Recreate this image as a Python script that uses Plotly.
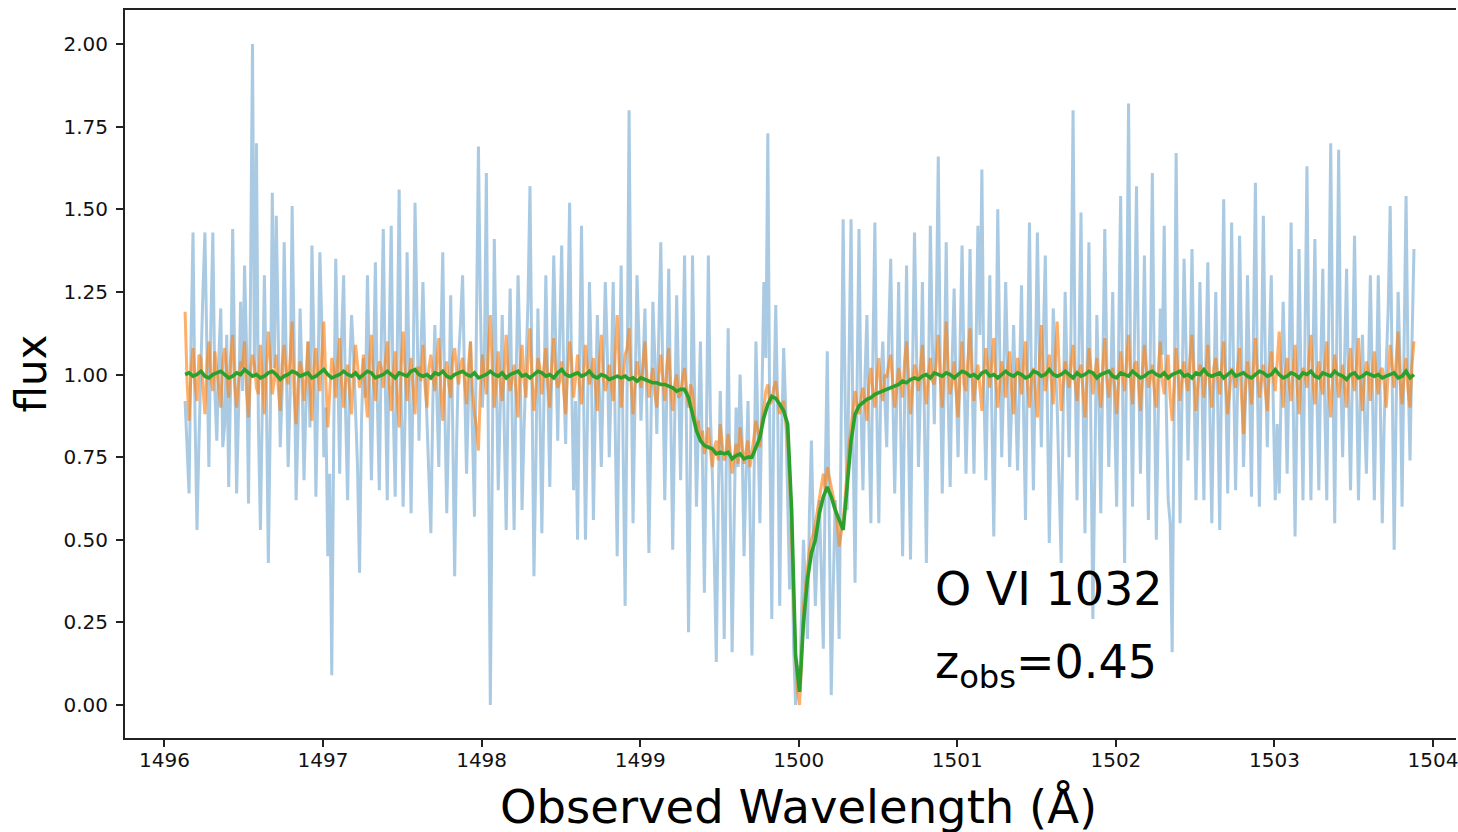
import plotly.graph_objects as go

# Observed wavelength grids: start / step (Angstrom)
wl_start = 1496.13
wl_step_fine = 0.0125
wl_step_clean = 0.025

# Raw (noisy) flux - light blue
flux_raw = [
    0.92, 0.75, 0.64, 1.10, 1.43, 0.88, 0.53, 0.80, 1.05, 1.25, 1.43, 1.02, 0.72, 1.15, 1.43, 0.95, 0.80, 1.05, 1.20, 0.78,
    0.85, 1.12, 0.66, 0.98, 1.44, 1.05, 0.64, 0.90, 1.22, 0.95, 1.33, 1.08, 0.61, 1.25, 2.00, 1.00, 1.70, 0.85, 0.53, 0.92,
    1.30, 0.95, 0.43, 0.88, 1.55, 1.02, 1.48, 1.12, 0.78, 0.96, 1.40, 1.05, 0.72, 0.94, 1.51, 1.10, 0.62, 0.85, 1.20, 0.99,
    0.68, 0.92, 1.10, 0.84, 1.39, 1.08, 0.63, 0.97, 1.37, 1.15, 0.75, 0.90, 0.45, 0.70, 0.09, 0.82, 1.35, 1.03, 0.70, 1.12,
    1.30, 0.88, 0.62, 1.02, 1.18, 1.06, 0.90, 0.72, 0.40, 0.86, 1.05, 0.93, 1.30, 1.01, 0.68, 0.99, 1.34, 0.92, 0.65, 1.10,
    1.44, 0.97, 0.62, 1.12, 1.45, 0.90, 0.63, 1.05, 1.56, 0.95, 0.60, 0.88, 1.37, 1.00, 0.58, 0.96, 1.52, 1.18, 0.80, 1.07,
    1.28, 1.04, 0.88, 0.70, 0.52, 0.92, 1.15, 0.94, 0.72, 1.08, 1.37, 0.91, 0.58, 0.86, 1.24, 0.85, 0.39, 0.80, 1.05, 1.16,
    1.30, 0.98, 0.70, 0.94, 1.10, 0.82, 0.57, 1.15, 1.69, 1.20, 0.90, 1.05, 1.61, 0.80, 0.00, 0.75, 1.41, 1.02, 0.65, 0.90,
    1.18, 0.85, 0.53, 0.96, 1.26, 0.88, 0.53, 0.99, 1.30, 1.06, 0.59, 0.83, 1.05, 1.22, 1.57, 0.95, 0.39, 0.74, 1.20, 0.90,
    0.52, 0.91, 1.30, 0.97, 0.66, 1.03, 1.36, 1.09, 0.80, 1.12, 1.39, 1.00, 0.79, 1.14, 1.52, 0.99, 0.65, 0.92, 0.50, 1.02,
    1.45, 0.96, 0.50, 0.87, 1.28, 1.01, 0.56, 0.90, 1.18, 0.95, 0.72, 1.00, 1.28, 1.07, 0.75, 0.99, 1.28, 0.84, 0.45, 0.93,
    1.33, 0.78, 0.30, 0.95, 1.80, 1.05, 0.55, 0.93, 1.30, 1.10, 0.86, 1.02, 1.20, 0.88, 0.46, 0.83, 1.22, 1.05, 0.82, 1.13,
    1.40, 1.00, 0.62, 0.94, 1.32, 0.90, 0.47, 0.85, 1.24, 0.97, 0.68, 1.02, 1.36, 0.80, 0.22, 0.75, 1.36, 0.96, 0.60, 0.85,
    1.10, 0.74, 0.34, 0.82, 1.36, 0.88, 0.70, 0.45, 0.13, 0.62, 0.95, 0.66, 0.20, 0.71, 1.14, 0.60, 0.16, 0.55, 0.90, 0.72,
    1.00, 0.80, 0.45, 0.70, 0.92, 0.58, 0.15, 0.66, 1.10, 0.84, 0.55, 0.92, 1.28, 1.05, 1.73, 0.82, 0.26, 0.90, 1.21, 0.88,
    0.30, 0.82, 1.08, 0.90, 0.62, 0.35, 0.58, 0.18, 0.00, 0.12, 0.05, 0.28, 0.50, 0.35, 0.20, 0.58, 0.80, 0.52, 0.30, 0.48,
    0.62, 0.40, 0.17, 0.70, 1.07, 0.55, 0.03, 0.35, 0.62, 0.48, 0.20, 0.85, 1.47, 0.92, 0.59, 1.05, 1.47, 0.80, 0.37, 0.95,
    1.44, 0.90, 0.65, 0.99, 1.18, 0.84, 0.55, 1.05, 1.46, 0.88, 0.55, 0.97, 1.10, 0.93, 0.78, 1.12, 1.35, 0.96, 0.64, 0.91,
    1.28, 0.86, 0.45, 0.92, 1.33, 0.81, 0.44, 1.00, 1.43, 1.08, 0.72, 0.95, 1.28, 0.87, 0.43, 0.94, 1.45, 1.10, 0.85, 1.18,
    1.66, 1.02, 0.64, 0.98, 1.40, 0.92, 0.66, 1.04, 1.26, 0.97, 0.75, 1.09, 1.39, 1.01, 0.70, 0.96, 1.38, 1.03, 0.70, 1.06,
    1.45, 1.12, 1.62, 0.96, 0.68, 1.00, 1.30, 0.89, 0.51, 0.94, 1.50, 1.07, 0.75, 0.98, 1.28, 1.02, 0.72, 0.90, 1.15, 0.93,
    0.71, 0.99, 1.27, 0.90, 0.56, 1.04, 1.46, 0.97, 0.65, 1.02, 1.43, 1.06, 0.78, 1.11, 1.36, 0.92, 0.49, 0.85, 1.20, 1.05,
    0.90, 0.66, 0.43, 0.88, 1.25, 1.00, 0.75, 1.15, 1.80, 1.04, 0.62, 1.08, 1.49, 0.93, 0.52, 0.98, 1.40, 0.83, 0.26, 0.72,
    1.18, 0.93, 0.58, 1.01, 1.44, 1.05, 0.72, 0.96, 1.25, 0.87, 0.60, 1.09, 1.54, 0.95, 0.43, 1.10, 1.82, 1.03, 0.60, 1.12,
    1.57, 1.04, 0.70, 1.00, 1.36, 0.94, 0.56, 1.08, 1.61, 0.97, 0.50, 0.88, 1.20, 1.06, 1.45, 0.91, 0.62, 0.55, 0.16, 0.90,
    1.67, 1.01, 0.55, 0.95, 1.35, 1.08, 0.74, 1.02, 1.38, 0.99, 0.62, 0.92, 1.28, 0.97, 0.62, 1.05, 1.34, 0.89, 0.55, 0.94,
    1.25, 0.90, 0.53, 1.06, 1.53, 0.98, 0.64, 1.03, 1.46, 1.00, 0.65, 0.96, 1.42, 1.09, 0.72, 0.93, 1.30, 0.99, 0.63, 1.12,
    1.58, 0.97, 0.60, 1.02, 1.48, 1.04, 0.78, 1.08, 1.30, 0.91, 0.62, 0.85, 0.64, 0.96, 1.22, 1.00, 0.70, 1.03, 1.46, 0.95,
    0.51, 0.92, 1.38, 0.98, 0.62, 1.10, 1.63, 1.00, 0.62, 1.03, 1.41, 0.95, 0.65, 1.04, 1.32, 0.90, 0.62, 1.15, 1.70, 1.06,
    0.55, 1.08, 1.68, 1.01, 0.75, 1.05, 1.32, 0.94, 0.65, 1.02, 1.42, 0.99, 0.62, 0.93, 1.12, 0.88, 0.70, 1.00, 1.30, 0.96,
    0.62, 0.95, 1.30, 0.92, 0.55, 0.86, 1.05, 1.20, 1.51, 0.98, 0.47, 0.90, 1.25, 1.03, 0.60, 1.08, 1.54, 1.02, 0.74, 1.10, 1.38,
]

# Medium-noise flux - orange
flux_mid = [
    1.19, 0.98, 0.86, 1.01, 1.08, 0.97, 0.92, 1.06, 1.05, 0.95, 0.88, 1.03, 1.10, 0.99, 0.95, 1.07, 1.02, 0.96, 0.90, 1.04,
    1.08, 1.00, 0.93, 1.05, 1.12, 0.97, 0.90, 0.98, 1.04, 1.02, 1.10, 0.95, 0.87, 1.01, 1.06, 1.03, 0.96, 0.94, 1.09, 0.99,
    0.88, 1.02, 1.13, 1.04, 0.94, 0.98, 1.06, 0.96, 0.89, 1.03, 1.09, 1.00, 0.97, 1.05, 1.16, 0.94, 0.85, 0.97, 1.04, 1.01,
    0.92, 0.99, 1.10, 0.96, 0.86, 1.02, 1.08, 1.00, 0.95, 1.06, 1.16, 0.98, 0.84, 0.95, 1.05, 1.02, 0.93, 1.04, 1.11, 0.97,
    0.90, 0.98, 1.03, 0.95, 0.88, 1.01, 1.09, 1.03, 0.96, 0.99, 1.06, 0.94, 0.87, 1.04, 1.12, 0.98, 0.92, 1.00, 1.04, 1.02,
    0.96, 1.04, 1.10, 0.97, 0.89, 1.00, 1.07, 0.93, 0.84, 1.03, 1.13, 1.01, 0.92, 0.99, 1.05, 0.96, 0.88, 1.02, 1.02, 0.98,
    1.09, 0.97, 0.90, 1.02, 1.06, 1.00, 0.95, 1.04, 1.11, 0.96, 0.86, 0.99, 1.04, 0.97, 0.93, 1.05, 1.08, 1.01, 0.97, 1.03,
    1.05, 0.98, 0.91, 1.03, 1.10, 0.95, 0.88, 0.84, 0.77, 0.96, 1.06, 1.00, 0.94, 1.08, 1.18, 1.02, 0.90, 0.99, 1.07, 0.97,
    0.92, 1.01, 1.12, 1.00, 0.95, 0.99, 1.03, 0.94, 0.87, 1.02, 1.09, 0.98, 0.93, 1.05, 1.14, 0.99, 0.89, 0.96, 1.05, 1.02,
    0.94, 1.02, 1.08, 0.97, 0.90, 1.03, 1.11, 1.00, 0.96, 0.98, 1.04, 0.95, 0.88, 1.01, 1.10, 1.04, 0.93, 0.99, 1.06, 0.97,
    0.91, 1.00, 1.09, 1.02, 0.97, 1.01, 1.05, 0.96, 0.89, 1.04, 1.12, 0.99, 0.95, 0.98, 1.03, 0.97, 0.92, 1.06, 1.18, 1.03,
    0.90, 0.99, 1.06, 1.08, 1.14, 0.98, 0.88, 0.97, 1.04, 1.00, 0.96, 1.03, 1.10, 0.99, 0.93, 0.98, 1.02, 0.94, 0.90, 1.00,
    1.06, 0.99, 0.92, 1.02, 1.08, 0.96, 0.89, 0.97, 1.00, 0.93, 0.94, 0.99, 1.02, 0.95, 0.90, 0.97, 0.95, 0.88, 0.84, 0.86,
    0.80, 0.83, 0.76, 0.79, 0.84, 0.77, 0.72, 0.78, 0.80, 0.74, 0.85, 0.79, 0.74, 0.76, 0.82, 0.77, 0.70, 0.75, 0.79, 0.73,
    0.84, 0.78, 0.73, 0.77, 0.80, 0.72, 0.76, 0.81, 0.86, 0.83, 0.78, 0.86, 0.90, 0.95, 0.97, 0.91, 0.92, 0.96, 0.98, 0.93,
    0.88, 0.90, 0.92, 0.86, 0.80, 0.68, 0.50, 0.30, 0.15, 0.04, 0.00, 0.12, 0.30, 0.36, 0.42, 0.47, 0.50, 0.52, 0.55, 0.59,
    0.62, 0.66, 0.70, 0.65, 0.72, 0.69, 0.66, 0.62, 0.60, 0.55, 0.48, 0.52, 0.55, 0.63, 0.72, 0.79, 0.84, 0.90, 0.95, 0.91,
    0.88, 0.93, 0.96, 0.91, 0.86, 0.97, 1.02, 0.95, 0.90, 0.99, 1.05, 0.96, 0.92, 1.00, 0.99, 1.03, 1.06, 0.97, 0.90, 0.96,
    1.02, 0.98, 0.93, 1.04, 1.10, 0.99, 0.88, 0.96, 1.03, 1.01, 0.95, 1.02, 1.09, 0.97, 0.91, 1.00, 1.05, 0.98, 0.97, 1.04,
    1.12, 0.99, 0.90, 1.03, 1.16, 1.01, 0.94, 0.98, 1.04, 0.95, 0.87, 1.00, 1.10, 0.97, 0.95, 1.05, 1.14, 1.00, 0.92, 0.99,
    1.03, 0.96, 0.89, 1.01, 1.08, 1.02, 0.96, 1.04, 1.11, 0.98, 0.90, 0.97, 1.04, 1.00, 0.93, 1.02, 1.07, 0.95, 0.88, 0.99,
    1.05, 1.00, 0.94, 1.03, 1.10, 0.97, 0.90, 0.99, 1.02, 0.94, 0.87, 1.04, 1.15, 1.01, 0.95, 1.00, 1.06, 0.98, 0.91, 1.05,
    1.16, 1.02, 0.89, 0.97, 1.04, 1.00, 0.96, 1.03, 1.09, 0.98, 0.92, 1.01, 1.03, 0.95, 0.87, 0.99, 1.08, 1.02, 0.94, 1.00,
    1.05, 0.97, 0.90, 1.02, 1.11, 0.99, 0.93, 1.00, 1.02, 0.96, 0.88, 0.98, 1.07, 1.01, 0.95, 1.04, 1.12, 0.99, 0.91, 1.03,
    1.04, 0.98, 0.89, 1.00, 1.09, 1.02, 0.96, 0.99, 1.03, 0.95, 0.90, 1.01, 1.10, 0.98, 0.94, 1.02, 1.06, 0.93, 0.86, 0.97,
    1.08, 1.00, 0.92, 0.99, 1.04, 0.98, 0.95, 1.05, 1.12, 0.99, 0.89, 0.97, 1.03, 1.01, 0.93, 1.00, 1.09, 0.97, 0.90, 1.02,
    1.05, 0.99, 0.94, 1.03, 1.10, 0.97, 0.88, 0.95, 1.02, 1.00, 0.96, 1.02, 1.08, 0.93, 0.82, 0.96, 1.04, 0.98, 0.91, 1.02,
    1.11, 1.00, 0.93, 0.98, 1.03, 0.95, 0.89, 1.01, 1.07, 0.99, 0.95, 1.04, 1.13, 0.98, 0.90, 1.00, 1.05, 0.97, 0.92, 1.01,
    1.09, 0.97, 0.88, 0.99, 1.02, 1.00, 0.96, 1.05, 1.12, 0.98, 0.91, 1.00, 1.04, 0.97, 0.94, 1.03, 1.10, 0.96, 0.87, 0.99,
    1.06, 1.00, 0.93, 0.98, 1.03, 0.96, 0.90, 1.01, 1.08, 0.99, 0.95, 1.03, 1.11, 0.97, 0.89, 0.99, 1.04, 1.01, 0.92, 1.00,
    1.07, 0.99, 0.94, 1.01, 1.02, 0.97, 0.90, 1.00, 1.09, 1.02, 0.96, 1.04, 1.13, 0.98, 0.91, 1.00, 1.05, 0.95, 0.90, 1.03, 1.10,
]

# Low-noise flux - green
flux_clean = [
    1.00, 1.005, 0.995, 1.00, 1.01, 0.995, 0.99, 1.00, 1.005, 1.01,
    1.00, 0.99, 0.995, 1.005, 1.00, 1.015, 1.005, 0.995, 1.00, 0.99,
    0.995, 1.005, 1.01, 1.00, 0.985, 0.995, 1.00, 1.01, 1.005, 0.995,
    1.00, 1.005, 0.99, 0.995, 1.005, 1.015, 1.00, 0.99, 0.995, 1.00,
    1.01, 1.00, 0.995, 1.005, 0.99, 1.00, 1.01, 1.005, 0.99, 0.995,
    1.00, 1.01, 1.00, 0.99, 1.005, 1.00, 0.995, 1.01, 1.015, 1.00,
    0.995, 1.00, 0.99, 1.005, 1.00, 1.01, 0.995, 0.99, 1.00, 1.005,
    1.01, 1.00, 0.995, 1.005, 0.99, 0.995, 1.00, 1.01, 1.00, 0.995,
    1.005, 0.99, 1.00, 1.005, 1.01, 0.995, 1.00, 0.99, 1.00, 1.01,
    1.005, 0.995, 1.00, 0.99, 1.005, 1.015, 1.00, 0.995, 1.00, 1.005,
    0.995, 1.00, 1.01, 0.995, 0.99, 1.00, 0.995, 0.985, 0.99, 0.995,
    0.99, 0.995, 0.985, 0.99, 0.98, 0.99, 0.985, 0.98, 0.975, 0.975,
    0.97, 0.97, 0.965, 0.96, 0.95, 0.955, 0.955, 0.93, 0.88, 0.83,
    0.80, 0.785, 0.78, 0.775, 0.76, 0.765, 0.76, 0.765, 0.745, 0.755,
    0.76, 0.745, 0.75, 0.75, 0.78, 0.81, 0.87, 0.91, 0.934, 0.928,
    0.91, 0.89, 0.85, 0.59, 0.15, 0.04, 0.25, 0.38, 0.46, 0.50,
    0.58, 0.63, 0.66, 0.63, 0.59, 0.56, 0.53, 0.66, 0.80, 0.88,
    0.905, 0.915, 0.925, 0.93, 0.94, 0.945, 0.95, 0.955, 0.96, 0.965,
    0.97, 0.98, 0.975, 0.985, 0.99, 0.985, 0.995, 1.00, 0.99, 1.005,
    1.00, 0.995, 1.005, 1.00, 0.99, 1.00, 1.01, 1.005, 0.995, 1.00,
    0.99, 1.005, 1.01, 0.995, 1.00, 0.99, 1.00, 1.01, 1.00, 0.995,
    1.005, 1.00, 0.99, 0.995, 1.01, 1.005, 0.995, 1.00, 1.015, 1.00,
    0.995, 1.00, 1.01, 1.00, 0.99, 1.005, 0.995, 1.00, 1.01, 1.005,
    0.99, 1.00, 1.005, 1.01, 0.995, 0.99, 1.005, 1.00, 0.995, 1.01,
    1.00, 0.99, 0.995, 1.005, 1.01, 1.00, 0.995, 1.005, 0.99, 1.00,
    1.005, 1.01, 0.995, 1.00, 0.99, 1.005, 1.00, 1.015, 1.00, 0.995,
    1.00, 1.005, 0.99, 1.00, 1.01, 0.995, 1.00, 1.005, 0.995, 0.99,
    1.00, 1.01, 1.005, 0.995, 1.00, 1.015, 1.00, 0.99, 0.995, 1.005,
    1.00, 0.99, 1.005, 1.00, 1.01, 0.995, 0.99, 1.005, 1.00, 0.995,
    1.01, 1.00, 0.995, 0.985, 1.00, 1.005, 0.99, 0.995, 1.005, 1.00,
    0.995, 1.00, 0.99, 0.995, 1.00, 1.005, 0.99, 0.995, 1.01, 0.99, 1.00,
]

x_ticks = [1496, 1497, 1498, 1499, 1500, 1501, 1502, 1503, 1504]
y_ticks = [0.00, 0.25, 0.50, 0.75, 1.00, 1.25, 1.50, 1.75, 2.00]
line_label = "O VI 1032"
z_label = "z<sub>obs</sub>=0.45"
x_title = "Observed Wavelength (Å)"
y_title = "flux"

wl_fine = [round(wl_start + wl_step_fine * i, 4) for i in range(len(flux_raw))]
wl_clean = [round(wl_start + wl_step_clean * i, 4) for i in range(len(flux_clean))]

FONT = "DejaVu Sans"

fig = go.Figure()
fig.add_trace(go.Scatter(x=wl_fine, y=flux_raw, mode="lines",
                         line=dict(color="#1f77b4", width=3), opacity=0.38,
                         showlegend=False))
fig.add_trace(go.Scatter(x=wl_fine, y=flux_mid, mode="lines",
                         line=dict(color="#ff7f0e", width=3), opacity=0.62,
                         showlegend=False))
fig.add_trace(go.Scatter(x=wl_clean, y=flux_clean, mode="lines",
                         line=dict(color="#2ca02c", width=3.6),
                         showlegend=False))

fig.add_annotation(x=1500.845, y=0.35, xref="x", yref="y", text=line_label,
                   showarrow=False, xanchor="left", yanchor="middle",
                   font=dict(family=FONT, size=46, color="black"))
fig.add_annotation(x=1500.845, y=0.12, xref="x", yref="y", text=z_label,
                   showarrow=False, xanchor="left", yanchor="middle",
                   font=dict(family=FONT, size=46, color="black"))

# axis titles placed at the centre of the full (uncropped) axes
fig.add_annotation(x=0.506, y=0, xref="paper", yref="paper",
                   text=x_title, showarrow=False,
                   xanchor="center", yanchor="top", yshift=-40,
                   font=dict(family=FONT, size=46.5, color="black"))
fig.add_annotation(x=0, y=0.5, xref="paper", yref="paper", text=y_title,
                   showarrow=False, textangle=-90, xanchor="right",
                   yanchor="middle", xshift=-68,
                   font=dict(family=FONT, size=42, color="black"))

fig.update_layout(
    width=1458, height=832,
    margin=dict(l=125, r=0, t=10, b=94, pad=0),
    paper_bgcolor="white", plot_bgcolor="white",
    font=dict(family=FONT, size=20, color="black"),
    hovermode=False,
)
fig.update_xaxes(range=[1495.751, 1504.145], tickvals=x_ticks,
                 ticktext=[str(v) for v in x_ticks],
                 showgrid=False, zeroline=False, showline=True,
                 linecolor="#222222", linewidth=2, mirror=True,
                 ticks="outside", ticklen=7, tickwidth=1.5, tickcolor="#222222",
                 ticklabeloverflow="allow", ticklabelstandoff=-4,
                 tickfont=dict(family=FONT, size=20, color="#111111"))
fig.update_yaxes(range=[-0.0998, 2.103], tickvals=y_ticks,
                 ticktext=[f"{v:.2f}" for v in y_ticks],
                 showgrid=False, zeroline=False, showline=True,
                 linecolor="#222222", linewidth=2, mirror=False,
                 ticks="outside", ticklen=7, tickwidth=1.5, tickcolor="#222222",
                 ticklabelstandoff=4,
                 tickfont=dict(family=FONT, size=20, color="#111111"))

fig.write_html(
    "out.html",
    config={"displayModeBar": False},
    post_script="document.body.style.margin='0';document.body.style.overflow='hidden';",
)
